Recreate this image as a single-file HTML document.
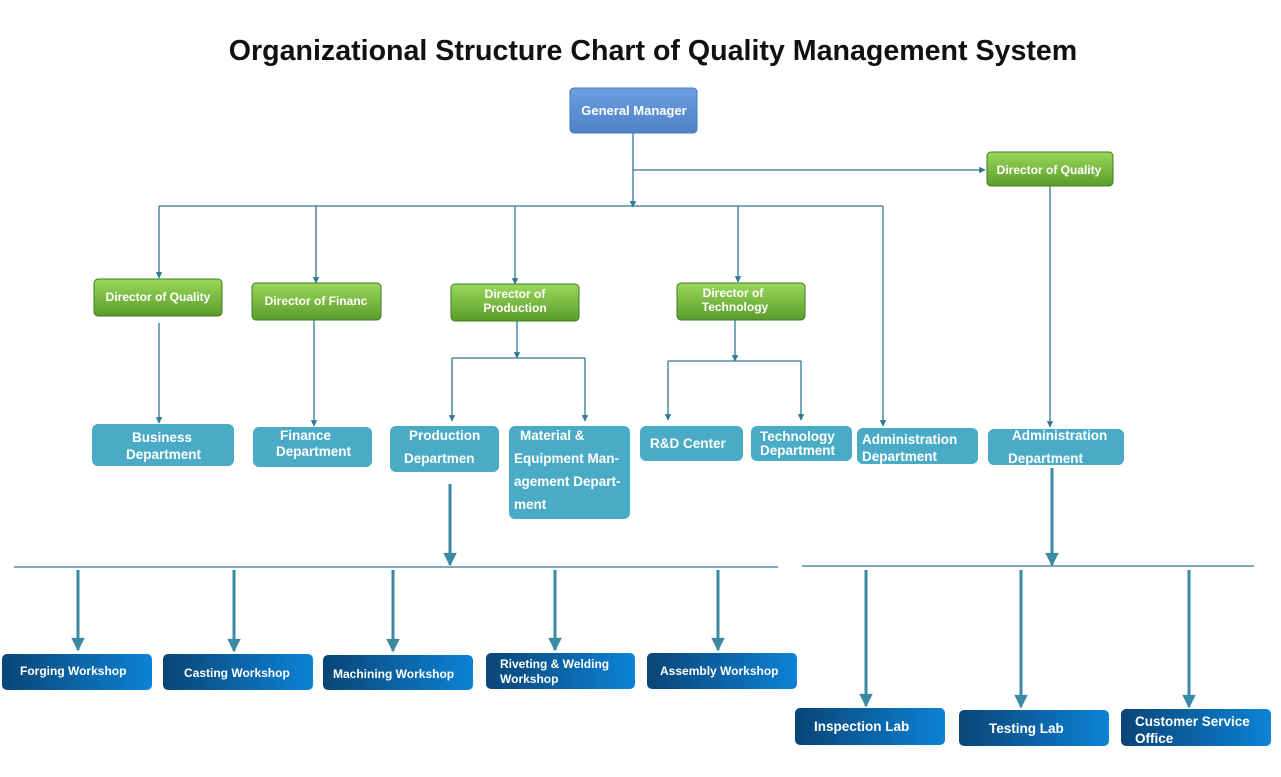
<!DOCTYPE html>
<html><head><meta charset="utf-8"><style>
body{margin:0;background:#fff;}
svg text{font-family:"Liberation Sans",sans-serif;font-weight:bold;}
</style></head><body>
<svg width="1281" height="772" viewBox="0 0 1281 772" xmlns="http://www.w3.org/2000/svg">
<defs>
<linearGradient id="g" x1="0" y1="0" x2="0" y2="1"><stop offset="0" stop-color="#9bd85a"/><stop offset="1" stop-color="#5a9c2c"/></linearGradient>
<linearGradient id="b" x1="0" y1="0" x2="1" y2="0"><stop offset="0" stop-color="#0a4576"/><stop offset="1" stop-color="#0c82d6"/></linearGradient>
<linearGradient id="gm" x1="0" y1="0" x2="0" y2="1"><stop offset="0" stop-color="#6a9fe0"/><stop offset="1" stop-color="#4f82c8"/></linearGradient>
<marker id="a" viewBox="0 0 10 10" refX="9" refY="5" markerWidth="5" markerHeight="5" orient="auto"><path d="M0,0L10,5L0,10z" fill="#2e7a94"/></marker>
<marker id="A" viewBox="0 0 10 10" refX="9" refY="5" markerWidth="6" markerHeight="4.5" orient="auto"><path d="M0,0L10,5L0,10z" fill="#3a8aa4"/></marker>
</defs>
<text x="653" y="60" text-anchor="middle" font-size="28.6" fill="#111">Organizational Structure Chart of Quality Management System</text>

<g stroke="#2e7a94" stroke-width="1.3" fill="none">
<path d="M633,133V207" marker-end="url(#a)"/>
<path d="M633,170H985" marker-end="url(#a)"/>
<path d="M159,206H883"/>
<path d="M159,206V278" marker-end="url(#a)"/>
<path d="M316,206V283" marker-end="url(#a)"/>
<path d="M515,206V284" marker-end="url(#a)"/>
<path d="M738,206V282" marker-end="url(#a)"/>
<path d="M883,206V426" marker-end="url(#a)"/>
<path d="M1050,186V427" marker-end="url(#a)"/>
<path d="M159,323V423" marker-end="url(#a)"/>
<path d="M314,320V426" marker-end="url(#a)"/>
<path d="M517,321V358" marker-end="url(#a)"/>
<path d="M452,358H585"/>
<path d="M452,358V421" marker-end="url(#a)"/>
<path d="M585,358V421" marker-end="url(#a)"/>
<path d="M735,320V361" marker-end="url(#a)"/>
<path d="M668,361H801"/>
<path d="M668,361V420" marker-end="url(#a)"/>
<path d="M801,361V420" marker-end="url(#a)"/>
<path d="M14,567H778"/>
<path d="M802,566H1254"/>
</g>
<g stroke="#3a8aa4" stroke-width="3" fill="none">
<path d="M450,484V565" marker-end="url(#A)"/>
<path d="M1052,468V565" marker-end="url(#A)"/>
<path d="M78,570V650" marker-end="url(#A)"/>
<path d="M234,570V651" marker-end="url(#A)"/>
<path d="M393,570V651" marker-end="url(#A)"/>
<path d="M555,570V650" marker-end="url(#A)"/>
<path d="M718,570V650" marker-end="url(#A)"/>
<path d="M866,570V706" marker-end="url(#A)"/>
<path d="M1021,570V707" marker-end="url(#A)"/>
<path d="M1189,570V707" marker-end="url(#A)"/>
</g>

<rect x="570" y="88" width="127" height="45" rx="4" fill="url(#gm)" stroke="#4a78b8"/>
<text x="634" y="115" text-anchor="middle" font-size="13" fill="#fff">General Manager</text>

<g stroke="#3f7a26" stroke-width="1" fill="url(#g)">
<rect x="987" y="152" width="126" height="34" rx="4"/>
<rect x="94" y="279" width="128" height="37" rx="4"/>
<rect x="252" y="283" width="129" height="37" rx="4"/>
<rect x="451" y="284" width="128" height="37" rx="4"/>
<rect x="677" y="283" width="128" height="37" rx="4"/>
</g>
<g fill="#fff" font-size="12" text-anchor="middle">
<text x="1049" y="174">Director of Quality</text>
<text x="158" y="301">Director of Quality</text>
<text x="316" y="305">Director of Financ</text>
<text x="515" y="298">Director of</text><text x="515" y="312">Production</text>
<text x="733" y="297">Director of</text><text x="735" y="311">Technology</text>
</g>

<g fill="#4aabc6">
<rect x="92" y="424" width="142" height="42" rx="6"/>
<rect x="253" y="427" width="119" height="40" rx="6"/>
<rect x="390" y="426" width="109" height="46" rx="6"/>
<rect x="509" y="426" width="121" height="93" rx="6"/>
<rect x="640" y="426" width="103" height="35" rx="6"/>
<rect x="751" y="426" width="101" height="35" rx="6"/>
<rect x="857" y="428" width="121" height="36" rx="6"/>
<rect x="988" y="429" width="136" height="36" rx="6"/>
</g>
<g fill="#fff" font-size="13.5">
<text x="132" y="442">Business</text><text x="126" y="459">Department</text>
<text x="280" y="440">Finance</text><text x="276" y="456">Department</text>
<text x="409" y="440">Production</text><text x="404" y="463">Departmen</text>
<text x="520" y="440">Material &amp;</text><text x="514" y="463">Equipment Man-</text><text x="514" y="486">agement Depart-</text><text x="514" y="509">ment</text>
<text x="650" y="448">R&amp;D Center</text>
<text x="760" y="441">Technology</text><text x="760" y="455">Department</text>
<text x="862" y="444">Administration</text><text x="862" y="461">Department</text>
<text x="1012" y="440">Administration</text><text x="1008" y="463">Department</text>
</g>

<g fill="url(#b)">
<rect x="2" y="654" width="150" height="36" rx="5"/>
<rect x="163" y="654" width="150" height="36" rx="5"/>
<rect x="323" y="655" width="150" height="35" rx="5"/>
<rect x="486" y="653" width="149" height="36" rx="5"/>
<rect x="647" y="653" width="150" height="36" rx="5"/>
<rect x="795" y="708" width="150" height="37" rx="5"/>
<rect x="959" y="710" width="150" height="36" rx="5"/>
<rect x="1121" y="709" width="150" height="37" rx="5"/>
</g>
<g fill="#fff" font-size="12">
<text x="20" y="675">Forging Workshop</text>
<text x="184" y="677">Casting Workshop</text>
<text x="333" y="678">Machining Workshop</text>
<text x="500" y="668">Riveting &amp; Welding</text><text x="500" y="683">Workshop</text>
<text x="660" y="675">Assembly Workshop</text>
<text x="814" y="731" font-size="13.5">Inspection Lab</text>
<text x="989" y="733" font-size="13.5">Testing Lab</text>
<text x="1135" y="726" font-size="13.5">Customer Service</text><text x="1135" y="743" font-size="13.5">Office</text>
</g>
</svg>
</body></html>
